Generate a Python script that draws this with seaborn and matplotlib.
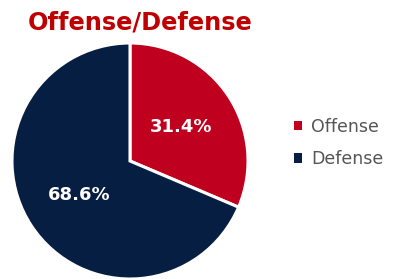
import matplotlib
matplotlib.use("Agg")
import matplotlib.pyplot as plt
import seaborn as sns
from matplotlib.patches import Patch

# data
categories = ["Offense", "Defense"]
shares = [31.4, 68.6]
colors = ["#C0001F", "#061E41"]

sns.set_theme(style="white")
plt.rcParams['font.family'] = ['DejaVu Sans']

fig = plt.figure(figsize=(4.11, 2.79), dpi=100)
W, H = 411, 279

# pie axes: center (130, 161) from top, radius 118 px
cx, cy, r = 130, 279 - 161, 118
ax = fig.add_axes([(cx - r) / W, (cy - r) / H, 2 * r / W, 2 * r / H])
wedges, texts, autotexts = ax.pie(
    shares, colors=sns.color_palette(colors), startangle=90, counterclock=False,
    autopct='%1.1f%%', pctdistance=0.52, radius=1,
    wedgeprops=dict(edgecolor='white', linewidth=2.2),
    textprops=dict(color='white', fontsize=13, fontweight='bold'))
ax.set_xlim(-1, 1)
ax.set_ylim(-1, 1)
ax.set_aspect('equal')
ax.axis('off')
for w in wedges:
    w.set_clip_on(False)

fig.text(28 / W, 1 - 22 / H, "Offense/Defense", color="#C00000", fontsize=17.3,
         fontweight='bold', ha='left', va='center')

handles = [Patch(facecolor=c, edgecolor='none') for c in colors]
leg = fig.legend(handles, categories, loc='center left', bbox_to_anchor=(285 / W, 1 - 143 / H),
                 frameon=False, fontsize=12.5, handlelength=0.5, handleheight=0.5,
                 handletextpad=0.5, labelspacing=0.85, borderpad=0)
for t in leg.get_texts():
    t.set_color('#555555')

fig.savefig("out.png", dpi=100)
